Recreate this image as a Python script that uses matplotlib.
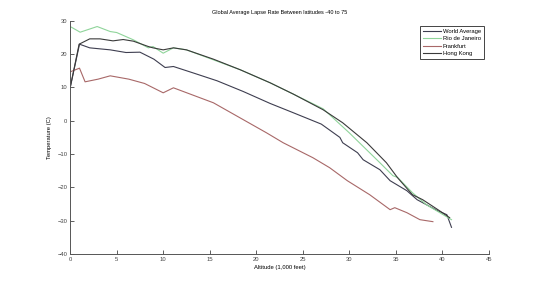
import matplotlib.pyplot as plt
import numpy as np

# Altitude (1,000 feet) and temperature (C)
wa_x = [0, 1, 2.1, 4.3, 6, 7.5, 9, 10.2, 11.1, 13.3, 15.8, 18.6, 21.5, 24, 27, 29, 29.3,
        30.9, 31.5, 33.3, 34.4, 36.2, 37.3, 38.3, 39.5, 40.5, 41]
wa_y = [10, 23, 21.9, 21.3, 20.5, 20.6, 18.5, 16.0, 16.3, 14.3, 12.0, 8.8, 5.2, 2.4, -1.0, -5.0, -6.6,
        -9.6, -11.7, -14.7, -18.0, -21.0, -23.7, -25.2, -27.0, -28.2, -32.0]

rio_x = [0, 1.07, 2.9, 4.3, 5, 6.8, 8.4, 8.9, 10, 11.1, 12.5, 15.4, 18.3, 21.5, 24, 27.2, 30,
         31.1, 33.3, 34.7, 35.2, 36.8, 38.3, 40.1, 41]
rio_y = [28.3, 26.6, 28.3, 26.8, 26.5, 24.3, 21.9, 22.3, 20.3, 21.9, 21.3, 18.3, 15.3, 11.4, 8.0, 3.6, -3.6,
         -6.6, -12.6, -16.5, -17.0, -21.6, -25.2, -28.2, -29.7]

fra_x = [0, 1, 1.6, 3, 4.3, 6.3, 8, 10, 11.1, 15.4, 21.1, 22.9, 26.1, 27.9, 29.8, 32.2, 34.4,
         34.9, 36.2, 37.6, 39]
fra_y = [14.7, 15.8, 11.7, 12.5, 13.5, 12.5, 11.2, 8.4, 9.9, 5.4, -3.6, -6.6, -11.1, -14.1, -18.0, -22.2, -26.7,
         -26.1, -27.6, -29.7, -30.3]

hk_x = [0, 0.96, 2.1, 3.2, 4.6, 5.7, 6.8, 8.4, 8.9, 10, 11.1, 12.5, 15.4, 18.3, 21.5, 24, 27.2,
        29.3, 31.9, 34, 35.2, 36.8, 37.9, 39.7, 40.8]
hk_y = [10, 23, 24.6, 24.6, 24.0, 24.4, 23.9, 22.3, 21.9, 21.3, 21.9, 21.3, 18.5, 15.3, 11.4, 8.0, 3.3,
        -0.6, -6.6, -12.6, -17.1, -22.2, -23.7, -27.0, -29.1]

plt.rcParams['font.family'] = 'Liberation Sans'
plt.rcParams['font.size'] = 4

fig = plt.figure(figsize=(5.4, 2.86), dpi=100)
ax = fig.add_axes([0.13, 0.112, 0.775, 0.815])

ax.plot(wa_x, wa_y, color='#3e3e50', lw=0.8, label='World Average')
ax.plot(rio_x, rio_y, color='#8fd49a', lw=0.8, label='Rio de Janeiro')
ax.plot(fra_x, fra_y, color='#a86868', lw=0.8, label='Frankfurt')
ax.plot(hk_x, hk_y, color='#3a3a3a', lw=0.8, label='Hong Kong')

ax.set_xlim(0, 45)
ax.set_ylim(-40, 30)
ax.set_xticks(np.arange(0, 46, 5))
ax.set_yticks(np.arange(-40, 31, 10))
ax.tick_params(direction='in', length=3, width=0.6, colors='#444444', labelsize=4.2, pad=2)
for s in ['top', 'right']:
    ax.spines[s].set_visible(False)
for s in ['left', 'bottom']:
    ax.spines[s].set_color('#555555')
    ax.spines[s].set_linewidth(0.7)

ax.set_title('Global Average Lapse Rate Between latitudes -40 to 75', fontsize=4, pad=5)
ax.set_xlabel('Altitude (1,000 feet)', fontsize=4.2, labelpad=2)
ax.set_ylabel('Temperature (C)', fontsize=4.2, labelpad=4)

leg = ax.legend(loc='upper right', bbox_to_anchor=(0.995, 0.99), fontsize=4.2, fancybox=False,
                framealpha=1, edgecolor='#444444', handlelength=3.2, handletextpad=0.3,
                borderpad=0.45, labelspacing=0.4)
leg.get_frame().set_linewidth(0.7)

fig.savefig('out.png', dpi=100)
